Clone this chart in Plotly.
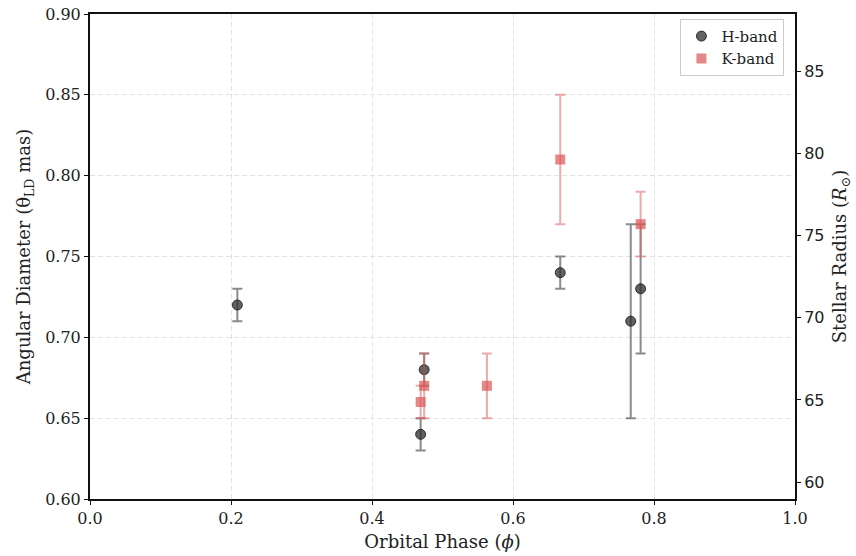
import plotly.graph_objects as go

# H-band data
h_phase = [0.209, 0.469, 0.474, 0.667, 0.767, 0.781]
h_theta = [0.72, 0.64, 0.68, 0.74, 0.71, 0.73]
h_err = [0.01, 0.01, 0.01, 0.01, 0.06, 0.04]

# K-band data
k_phase = [0.469, 0.474, 0.563, 0.667, 0.781]
k_theta = [0.66, 0.67, 0.67, 0.81, 0.77]
k_err = [0.01, 0.02, 0.02, 0.04, 0.02]

# conversion mas -> R_sun
scale = 98.3
theta_range = [0.60, 0.90]

serif = "DejaVu Serif"

fig = go.Figure()
fig.add_trace(go.Scatter(
    x=h_phase, y=h_theta, mode="markers", name="H-band",
    marker=dict(symbol="circle", size=10, color="rgba(45,45,45,0.75)",
                line=dict(width=1, color="rgba(20,20,20,0.8)")),
    error_y=dict(type="data", array=h_err, visible=True, color="rgba(90,90,90,0.7)",
                 thickness=2, width=5),
))
fig.add_trace(go.Scatter(
    x=k_phase, y=k_theta, mode="markers", name="K-band",
    marker=dict(symbol="square", size=10, color="rgba(220,85,85,0.7)"),
    error_y=dict(type="data", array=k_err, visible=True, color="rgba(220,100,100,0.55)",
                 thickness=2, width=5),
))
fig.add_trace(go.Scatter(
    x=h_phase, y=[v * scale for v in h_theta], yaxis="y2", mode="markers",
    marker=dict(opacity=0), showlegend=False, hoverinfo="skip",
))

fig.update_layout(
    width=856, height=556,
    margin=dict(l=90, r=61, t=14, b=57),
    paper_bgcolor="white", plot_bgcolor="white",
    font=dict(family=serif, size=16, color="#222"),
    xaxis=dict(
        range=[0, 1], dtick=0.2, tickformat=".1f",
        title=dict(text="Orbital Phase (<i>ϕ</i>)", font=dict(family=serif, size=18), standoff=8),
        showgrid=True, gridcolor="#e2e2e2", griddash="5px,3px", gridwidth=1,
        showline=True, linecolor="#111", linewidth=2, mirror=True,
        ticks="outside", ticklen=4, tickcolor="#111", zeroline=False, automargin=False,
        tickfont=dict(family=serif, size=16),
    ),
    yaxis=dict(
        range=theta_range, dtick=0.05, tickformat=".2f",
        title=dict(text="Angular Diameter (θ<sub>LD</sub> mas)", font=dict(family=serif, size=18), standoff=10),
        showgrid=True, gridcolor="#e2e2e2", griddash="5px,3px", gridwidth=1,
        showline=True, linecolor="#111", linewidth=2, mirror=True,
        ticks="outside", ticklen=4, tickcolor="#111", zeroline=False, automargin=False,
        tickfont=dict(family=serif, size=16),
    ),
    yaxis2=dict(
        overlaying="y", side="right",
        range=[theta_range[0] * scale, theta_range[1] * scale], dtick=5,
        title=dict(text="Stellar Radius (<i>R</i><sub>⊙</sub>)", font=dict(family=serif, size=18), standoff=10),
        showgrid=False, zeroline=False, automargin=False,
        showline=True, linecolor="#111", linewidth=2,
        ticks="outside", ticklen=4, tickcolor="#111",
        tickfont=dict(family="DejaVu Sans", size=16),
    ),
    legend=dict(
        x=0.985, y=0.99, xanchor="right", yanchor="top",
        bgcolor="rgba(255,255,255,0.9)", bordercolor="#ccc", borderwidth=1,
        font=dict(family=serif, size=15),
    ),
    showlegend=True,
)

fig.write_html("out.html", config={"displayModeBar": False},
               post_script="document.body.style.margin='0px';")
